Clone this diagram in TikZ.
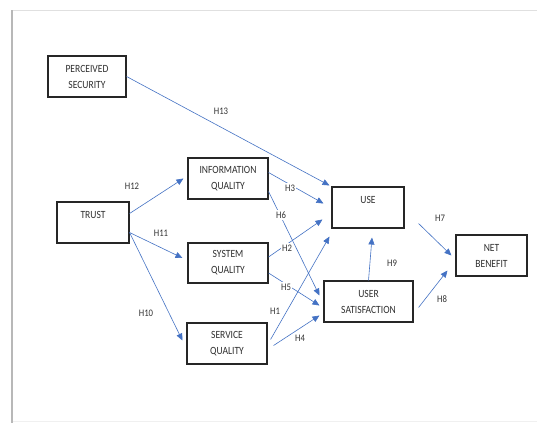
\documentclass[tikz,border=0pt]{standalone}
\usepackage{fontspec}
\setmainfont[FakeStretch=0.87]{Carlito}
\usetikzlibrary{arrows.meta,calc}
\definecolor{arrowblue}{HTML}{4472C4}
\definecolor{boxtext}{HTML}{303030}
\tikzset{
  box/.style={draw=black!85, line width=1.1pt, rectangle, align=center, inner sep=0pt,
    text=boxtext, font=\fontsize{11}{16}\selectfont},
  link/.style={draw=arrowblue, line width=0.6pt, -{Triangle[length=7pt,width=6pt]}},
  hlabel/.style={text=black!80, font=\fontsize{10}{12}\selectfont, inner sep=1.5pt, fill=white}
}
\begin{document}
\begin{tikzpicture}[x=1pt,y=-1pt]
\useasboundingbox (0,0) rectangle (537,423);
\fill[white] (0,0) rectangle (537,423);
% frame
\draw[black!12, line width=1pt] (12,10.5) -- (537,10.5);
\draw[black!6, line width=0.8pt] (12,421.5) -- (537,421.5);
\draw[black!28, line width=2pt] (12,10) -- (12,423);
% boxes
\node[box, minimum width=78, minimum height=41] (ps) at (87,76.5) {PERCEIVED\\SECURITY};
\node[box, minimum width=72, minimum height=41] (trust) at (93,222.5) {TRUST\\\phantom{T}};
\node[box, minimum width=80, minimum height=41] (iq) at (228,178.5) {INFORMATION\\QUALITY};
\node[box, minimum width=80, minimum height=40] (sq) at (228,263) {SYSTEM\\QUALITY};
\node[box, minimum width=80, minimum height=41] (serq) at (227,343.5) {SERVICE\\QUALITY};
\node[box, minimum width=72, minimum height=41] (use) at (368,207.5) {USE\\\phantom{U}};
\node[box, minimum width=89, minimum height=41] (us) at (368.5,301.5) {USER\\SATISFACTION};
\node[box, minimum width=71, minimum height=41] (nb) at (491.5,255.5) {NET\\BENEFIT};
% connectors
\draw[link] (ps.east) -- ($(use.north west)+(-2,-1)$);
\draw[link] ($(trust.east)+(0,-9)$) -- ($(iq.west)+(-4,0)$);
\draw[link] ($(trust.east)+(0,10)$) -- ($(sq.west)+(-5,-5)$);
\draw[link] ($(trust.east)+(0,10)$) -- ($(serq.west)+(-4,-3)$);
\draw[link] ($(iq.east)+(0,-6)$) -- ($(use.west)+(-8,-4)$);
\draw[link] ($(iq.east)+(0,13)$) -- ($(us.west)+(-4,-6)$);
\draw[link] ($(sq.east)+(0,-6)$) -- ($(use.west)+(-9,12)$);
\draw[link] ($(sq.east)+(0,10)$) -- ($(us.west)+(-4,4)$);
\draw[link] ($(serq.east)+(3,-4)$) -- ($(use.south west)+(-2,8)$);
\draw[link] ($(serq.east)+(6,2)$) -- ($(us.west)+(-4,14)$);
\draw[link] (us.north) -- ($(use.south)+(4,9)$);
\draw[link] ($(use.east)+(14,16)$) -- ($(nb.west)+(-4,0)$);
\draw[link] ($(us.east)+(5,6)$) -- ($(nb.west)+(-8,15)$);
% labels
\node[hlabel] (l13) at (221,111) {H13};
\node[hlabel] (l12) at (132,186) {H12};
\node[hlabel] (l11) at (161,233) {H11};
\node[hlabel] (l10) at (146,313) {H10};
\node[hlabel] (l3) at (290,188) {H3};
\node[hlabel] (l6) at (281,215) {H6};
\node[hlabel] (l2) at (287,248) {H2};
\node[hlabel] (l5) at (286,287) {H5};
\node[hlabel] (l1) at (275,311) {H1};
\node[hlabel] (l4) at (300,338) {H4};
\node[hlabel] (l9) at (392,263) {H9};
\node[hlabel] (l7) at (440,218) {H7};
\node[hlabel] (l8) at (442,299) {H8};
\end{tikzpicture}
\end{document}
